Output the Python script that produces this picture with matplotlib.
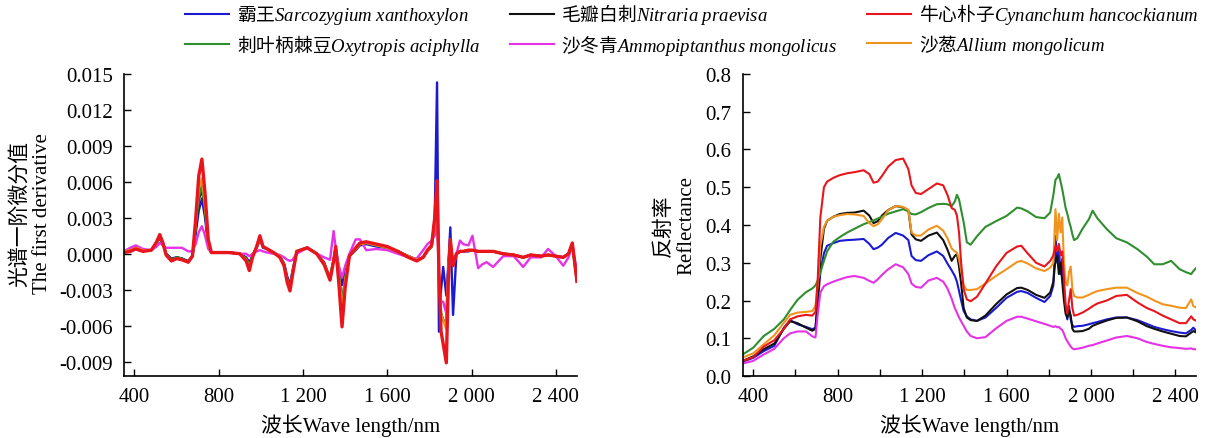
import matplotlib
matplotlib.use("Agg")
import matplotlib.pyplot as plt
from matplotlib.ticker import FuncFormatter, MultipleLocator, FixedLocator

plt.rcParams['font.family'] = ['Liberation Serif', 'Noto Sans CJK SC']
plt.rcParams['mathtext.fontset'] = 'custom'
plt.rcParams['mathtext.it'] = 'Liberation Serif:italic'
plt.rcParams['mathtext.rm'] = 'Liberation Serif'
plt.rcParams['axes.unicode_minus'] = False

# species, legend order (row by row)
names_cn = ['霸王', '毛瓣白刺', '牛心朴子', '刺叶柄棘豆', '沙冬青', '沙葱']
names_lat = ['Sarcozygium xanthoxylon', 'Nitraria praevisa', 'Cynanchum hancockianum',
             'Oxytropis aciphylla', 'Ammopiptanthus mongolicus', 'Allium mongolicum']
colors = ['#1a1ad2', '#111111', '#e8161c', '#2f8f2f', '#e432e4', '#f0941e']

# ---- first derivative (x 1e-3) ----
wl_d = [350, 380, 406, 440, 480, 505, 520, 535, 550, 575, 600, 625, 655, 675, 690, 705, 720,
        735, 750, 765, 800, 850, 900, 930, 945, 960, 980, 995, 1010, 1030, 1060, 1090, 1110,
        1125, 1138, 1150, 1170, 1220, 1265, 1300, 1328, 1345, 1355, 1370, 1385, 1400, 1420,
        1450, 1470, 1500, 1550, 1600, 1650, 1700, 1740, 1770, 1790, 1810, 1825, 1836, 1845,
        1855, 1865, 1880, 1890, 1899, 1912, 1928, 1945, 1960, 1985, 2004, 2031, 2050, 2071,
        2102, 2150, 2200, 2245, 2280, 2330, 2363, 2400, 2435, 2460, 2478, 2500]

d_sarco = [0.2, 0.4, 0.6, 0.3, 0.3, 0.9, 1.3, 0.8, 0.0, -0.4, -0.3, -0.4, -0.6, -0.2, 1.6, 3.6, 4.6,
           3.0, 0.6, 0.1, 0.1, 0.1, 0.0, -0.3, -0.7, -0.2, 0.5, 1.2, 0.5, 0.4, 0.1, -0.2, -0.8,
           -1.9, -2.6, -1.4, 0.2, 0.5, 0.0, -0.7, -2.2, -0.6, 0.4, -1.2, -2.6, -1.3, -0.2,
           0.3, 0.7, 0.8, 0.6, 0.5, 0.2, -0.2, -0.5, -0.3, 0.2, 0.6, 3.0, 14.3, -6.5,
           -3.0, -1.1, -3.5, -0.8, 2.2, -5.1, 0.0, 0.2, 0.2, 0.2, 0.3, 0.2, 0.2, 0.2,
           0.2, 0.0, -0.1, -0.3, -0.1, -0.2, -0.1, -0.2, -0.3, 0.0, 0.8, -2.0]
d_nitra = [0.2, 0.3, 0.5, 0.3, 0.3, 0.9, 1.5, 0.9, 0.0, -0.5, -0.3, -0.4, -0.7, -0.2, 2.0, 4.5, 5.4,
           3.5, 0.8, 0.1, 0.1, 0.1, 0.0, -0.4, -0.9, -0.2, 0.6, 1.4, 0.6, 0.4, 0.1, -0.2, -0.9,
           -2.2, -2.8, -1.6, 0.2, 0.5, 0.0, -0.8, -2.0, -0.5, 0.5, -1.5, -4.2, -2.0, -0.2,
           0.4, 0.8, 0.9, 0.7, 0.5, 0.2, -0.2, -0.5, -0.3, 0.2, 0.6, 2.5, 5.0, -2.0,
           -5.0, -5.5, -6.0, -1.0, 1.0, -1.0, 0.0, 0.2, 0.2, 0.3, 0.3, 0.2, 0.2, 0.2,
           0.2, 0.0, -0.1, -0.3, -0.1, -0.2, -0.1, -0.2, -0.3, 0.0, 0.8, -2.3]
d_cynan = [0.1, 0.2, 0.4, 0.2, 0.3, 1.0, 1.6, 0.9, -0.1, -0.6, -0.4, -0.5, -0.7, -0.2, 2.8, 6.5, 7.9,
           5.0, 1.2, 0.1, 0.1, 0.1, 0.0, -0.6, -1.4, -0.3, 0.6, 1.5, 0.6, 0.4, 0.1, -0.3, -1.0,
           -2.4, -3.1, -1.8, 0.2, 0.5, 0.0, -0.9, -2.2, -0.6, 0.6, -2.5, -6.1, -2.8, -0.2,
           0.5, 0.9, 1.0, 0.8, 0.6, 0.2, -0.3, -0.6, -0.3, 0.3, 0.7, 3.0, 6.1, -1.5,
           -6.5, -7.5, -9.1, -2.0, 1.2, -1.0, 0.0, 0.2, 0.2, 0.3, 0.3, 0.2, 0.2, 0.2,
           0.2, 0.0, -0.1, -0.3, -0.1, -0.2, -0.1, -0.2, -0.3, 0.0, 0.9, -2.3]
d_oxytr = [0.2, 0.3, 0.5, 0.3, 0.3, 0.9, 1.5, 0.9, 0.0, -0.5, -0.3, -0.4, -0.7, -0.2, 2.1, 4.7, 5.7,
           3.6, 0.8, 0.1, 0.1, 0.1, 0.0, -0.4, -0.9, -0.2, 0.6, 1.3, 0.6, 0.4, 0.1, -0.2, -0.9,
           -2.2, -2.9, -1.6, 0.2, 0.5, 0.0, -0.8, -2.0, -0.5, 0.5, -1.6, -4.2, -2.0, -0.2,
           0.4, 0.8, 0.9, 0.7, 0.5, 0.2, -0.2, -0.5, -0.3, 0.2, 0.6, 2.5, 5.0, -2.0,
           -5.0, -5.5, -6.0, -1.0, 1.0, -1.0, 0.0, 0.2, 0.2, 0.3, 0.3, 0.2, 0.2, 0.2,
           0.2, 0.0, -0.1, -0.3, -0.1, -0.2, -0.1, -0.2, -0.3, 0.0, 0.8, -2.3]
d_ammop = [0.2, 0.5, 0.7, 0.4, 0.3, 0.6, 0.9, 0.7, 0.5, 0.5, 0.5, 0.5, 0.2, 0.2, 0.8, 1.8, 2.3,
           1.5, 0.4, 0.1, 0.1, 0.1, 0.0, 0.0, -0.2, 0.0, 0.2, 0.3, 0.2, 0.1, 0.0, -0.1, -0.3,
           -0.5, -0.6, -0.5, 0.0, 0.5, 0.0, -0.3, -0.5, 1.9, 0.5, -1.0, -2.0, -1.0, 0.0,
           1.2, 1.2, 0.3, 0.4, 0.3, 0.0, -0.3, -0.4, 0.3, 0.8, 1.1, 1.5, 3.0, -2.0,
           -4.0, -4.0, -5.0, -1.0, 0.5, -0.5, 0.0, 1.1, 0.8, 0.7, 1.5, -1.2, -0.9, -0.7,
           -1.1, -0.2, -0.2, -1.1, -0.3, -0.3, 0.4, -0.2, -1.0, -0.3, 0.7, -1.5]
d_allium = [0.2, 0.3, 0.5, 0.3, 0.3, 0.9, 1.5, 0.9, -0.1, -0.6, -0.4, -0.5, -0.7, -0.2, 2.4, 5.5, 6.3,
            4.0, 0.9, 0.1, 0.1, 0.1, 0.0, -0.5, -1.2, -0.3, 0.6, 1.3, 0.6, 0.4, 0.1, -0.2, -0.9,
            -2.2, -2.9, -1.6, 0.2, 0.5, 0.0, -0.8, -2.0, -0.5, 0.5, -1.8, -4.6, -2.2, -0.2,
            0.4, 0.8, 0.9, 0.7, 0.5, 0.2, -0.2, -0.5, -0.3, 0.2, 0.6, 2.5, 5.2, -2.0,
            -5.0, -5.5, -6.3, -1.0, 1.0, -1.0, 0.0, 0.2, 0.2, 0.3, 0.3, 0.2, 0.2, 0.2,
            0.2, 0.0, -0.1, -0.3, -0.1, -0.2, -0.1, -0.2, -0.3, 0.0, 0.8, -2.3]

# ---- reflectance ----
wl_r = [350, 400, 450, 500, 545, 575, 610, 650, 680, 695, 705, 718, 735, 750, 780, 810, 845, 880,
        923, 950, 970, 990, 1010, 1040, 1075, 1110, 1135, 1150, 1170, 1195, 1230, 1270, 1300,
        1320, 1340, 1355, 1365, 1375, 1385, 1397, 1412, 1430, 1460, 1500, 1550, 1600, 1650,
        1670, 1700, 1740, 1780, 1807, 1822, 1832, 1840, 1848, 1856, 1864, 1872, 1880, 1888,
        1896, 1904, 1912, 1920, 1935, 1960, 1990, 2008, 2030, 2075, 2120, 2170, 2220, 2265,
        2300, 2340, 2380, 2420, 2450, 2475, 2485, 2500]

r_sarco = [0.038, 0.048, 0.066, 0.080, 0.128, 0.148, 0.137, 0.130, 0.124, 0.128, 0.190, 0.274,
           0.325, 0.345, 0.352, 0.358, 0.360, 0.361, 0.363, 0.350, 0.336, 0.340, 0.348, 0.366,
           0.379, 0.372, 0.360, 0.318, 0.307, 0.305, 0.320, 0.330, 0.318, 0.298, 0.280, 0.265,
           0.250, 0.225, 0.200, 0.172, 0.158, 0.150, 0.146, 0.155, 0.180, 0.207, 0.223, 0.225,
           0.220, 0.207, 0.196, 0.212, 0.240, 0.371, 0.300, 0.340, 0.270, 0.310, 0.230, 0.175,
           0.150, 0.185, 0.150, 0.135, 0.130, 0.132, 0.133, 0.137, 0.140, 0.143, 0.150, 0.155,
           0.155, 0.148, 0.138, 0.130, 0.124, 0.119, 0.115, 0.113, 0.122, 0.128, 0.119]
r_nitra = [0.040, 0.052, 0.071, 0.086, 0.125, 0.145, 0.140, 0.128, 0.120, 0.125, 0.200, 0.310,
           0.390, 0.411, 0.422, 0.429, 0.432, 0.433, 0.438, 0.425, 0.405, 0.410, 0.425, 0.440,
           0.450, 0.447, 0.438, 0.375, 0.362, 0.358, 0.372, 0.380, 0.360, 0.335, 0.305, 0.318,
           0.323, 0.290, 0.245, 0.180, 0.155, 0.148, 0.146, 0.160, 0.190, 0.216, 0.233, 0.234,
           0.228, 0.215, 0.207, 0.221, 0.250, 0.310, 0.318, 0.270, 0.300, 0.250, 0.200, 0.165,
           0.155, 0.175, 0.160, 0.125, 0.118, 0.118, 0.119, 0.125, 0.133, 0.138, 0.147, 0.154,
           0.155, 0.145, 0.132, 0.125, 0.118, 0.112, 0.106, 0.105, 0.115, 0.119, 0.115]
r_cynan = [0.040, 0.050, 0.078, 0.095, 0.125, 0.150, 0.158, 0.162, 0.160, 0.170, 0.250, 0.420,
           0.500, 0.515, 0.525, 0.532, 0.537, 0.540, 0.545, 0.535, 0.512, 0.515, 0.530, 0.555,
           0.572, 0.576, 0.548, 0.505, 0.485, 0.482, 0.495, 0.510, 0.505, 0.480, 0.445, 0.440,
           0.425, 0.380, 0.300, 0.230, 0.203, 0.198, 0.210, 0.245, 0.290, 0.326, 0.343, 0.345,
           0.325, 0.300, 0.290, 0.305, 0.320, 0.345, 0.330, 0.350, 0.320, 0.330, 0.260, 0.190,
           0.165, 0.200, 0.230, 0.180, 0.160, 0.162, 0.168, 0.178, 0.185, 0.192, 0.200, 0.212,
           0.215, 0.195, 0.180, 0.172, 0.160, 0.150, 0.140, 0.140, 0.158, 0.150, 0.146]
r_oxytr = [0.057, 0.075, 0.106, 0.125, 0.150, 0.175, 0.202, 0.222, 0.232, 0.240, 0.252, 0.274,
           0.305, 0.330, 0.356, 0.368, 0.380, 0.390, 0.402, 0.408, 0.412, 0.417, 0.422, 0.430,
           0.436, 0.442, 0.436, 0.429, 0.428, 0.434, 0.445, 0.455, 0.456, 0.455, 0.450, 0.462,
           0.480, 0.468, 0.440, 0.407, 0.354, 0.348, 0.370, 0.395, 0.410, 0.424, 0.446, 0.444,
           0.436, 0.421, 0.418, 0.433, 0.480, 0.520, 0.525, 0.535, 0.515, 0.495, 0.470, 0.445,
           0.430, 0.410, 0.395, 0.375, 0.360, 0.365, 0.390, 0.415, 0.438, 0.418, 0.389, 0.365,
           0.354, 0.336, 0.316, 0.296, 0.296, 0.305, 0.283, 0.275, 0.270, 0.278, 0.287]
r_ammop = [0.033, 0.040, 0.057, 0.072, 0.100, 0.113, 0.118, 0.118, 0.105, 0.102, 0.160, 0.221,
           0.238, 0.243, 0.250, 0.256, 0.262, 0.265, 0.260, 0.252, 0.247, 0.256, 0.268, 0.283,
           0.296, 0.288, 0.270, 0.245, 0.236, 0.234, 0.253, 0.260, 0.250, 0.232, 0.205, 0.180,
           0.168, 0.155, 0.145, 0.133, 0.118, 0.106, 0.100, 0.103, 0.126, 0.146, 0.157, 0.157,
           0.152, 0.145, 0.138, 0.133, 0.130, 0.132, 0.129, 0.130, 0.125, 0.122, 0.112, 0.100,
           0.092, 0.085, 0.078, 0.073, 0.071, 0.072, 0.075, 0.080, 0.082, 0.086, 0.094, 0.102,
           0.106, 0.100, 0.090, 0.085, 0.080, 0.076, 0.074, 0.072, 0.073, 0.071, 0.071]
r_allium = [0.049, 0.060, 0.084, 0.108, 0.141, 0.162, 0.168, 0.170, 0.172, 0.186, 0.240, 0.345,
            0.395, 0.411, 0.422, 0.426, 0.429, 0.428, 0.424, 0.405, 0.397, 0.402, 0.415, 0.440,
            0.450, 0.448, 0.440, 0.380, 0.372, 0.372, 0.388, 0.398, 0.385, 0.365, 0.338, 0.330,
            0.327, 0.310, 0.280, 0.240, 0.228, 0.228, 0.230, 0.245, 0.265, 0.283, 0.302, 0.305,
            0.298, 0.285, 0.278, 0.287, 0.300, 0.442, 0.360, 0.430, 0.380, 0.420, 0.300, 0.250,
            0.240, 0.275, 0.290, 0.230, 0.212, 0.208, 0.208, 0.215, 0.220, 0.225, 0.230, 0.234,
            0.234, 0.220, 0.210, 0.200, 0.190, 0.186, 0.181, 0.180, 0.203, 0.185, 0.181]

deriv = [d_sarco, d_nitra, d_cynan, d_oxytr, d_ammop, d_allium]
refl = [r_sarco, r_nitra, r_cynan, r_oxytr, r_ammop, r_allium]
# Chinese name upright, Latin binomial in italics
labels = [cn + r'$\mathit{' + lat.replace(' ', r'\ ') + '}$' for cn, lat in zip(names_cn, names_lat)]

fig = plt.figure(figsize=(12.07, 4.39), dpi=100)
ax1 = fig.add_axes([0.1027, 0.1412, 0.3753, 0.688])
ax2 = fig.add_axes([0.6153, 0.1412, 0.376, 0.688])

# draw order: red on top
order = [0, 1, 3, 4, 5, 2]
lines = {}
for i in order:
    lw = 2.4 if i == 2 else 1.7
    ax1.plot(wl_d, [v * 1e-3 for v in deriv[i]], color=colors[i], lw=lw)
    lines[i], = ax2.plot(wl_r, refl[i], color=colors[i], lw=1.5)

thousands = FuncFormatter(lambda v, p: f'{int(v):,}'.replace(',', ' '))

for ax in (ax1, ax2):
    ax.set_xlim(350, 2500)
    ax.xaxis.set_major_locator(FixedLocator([400, 800, 1200, 1600, 2000, 2400]))
    ax.xaxis.set_major_formatter(thousands)
    ax.spines['top'].set_visible(False)
    ax.spines['right'].set_visible(False)
    for s in ('left', 'bottom'):
        ax.spines[s].set_linewidth(1.2)
    ax.tick_params(which='both', direction='in', length=5, width=1.0, labelsize=15)
    ax.tick_params(axis='y', pad=8)
    ax.tick_params(axis='x', pad=8)
    ax.set_xlabel('波长Wave length/nm', fontsize=15, labelpad=5)

ax1.set_ylim(-0.0102, 0.015)
ax1.yaxis.set_major_locator(MultipleLocator(0.003))
ax1.yaxis.set_major_formatter(FuncFormatter(lambda v, p: f'{v:.3f}'))
ax1.set_ylabel('光谱一阶微分值\nThe first derivative', fontsize=15, linespacing=1.25)
ax1.yaxis.set_label_coords(-0.158, 0.54)

ax2.set_ylim(0, 0.8)
ax2.yaxis.set_major_locator(MultipleLocator(0.1))
ax2.yaxis.set_major_formatter(FuncFormatter(lambda v, p: f'{v:.1f}'))
ax2.xaxis.set_minor_locator(MultipleLocator(200))
ax2.set_ylabel('反射率\nReflectance', fontsize=15, linespacing=1.25)
ax2.yaxis.set_label_coords(-0.102, 0.5)

# legend filled column-wise, so reorder to read row by row
leg_order = [0, 3, 1, 4, 2, 5]
fig.legend([lines[i] for i in leg_order], [labels[i] for i in leg_order],
           loc='upper center', bbox_to_anchor=(0.573, 1.033), ncol=3, frameon=False,
           prop={'family': 'Noto Sans CJK SC', 'size': 13.5},
           handlelength=2.35, handletextpad=0.4, columnspacing=1.6, labelspacing=0.3)

fig.savefig('out.png', dpi=100)
